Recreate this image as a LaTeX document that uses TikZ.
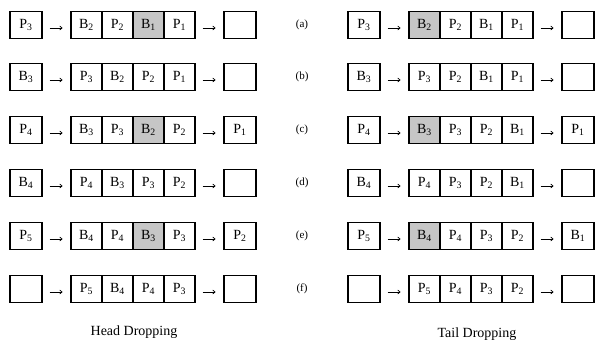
\documentclass[tikz,border=0pt]{standalone}
\usepackage{fontspec}
\setmainfont{Liberation Serif}
\usetikzlibrary{arrows.meta}
\newcommand\Sb[2]{#1\textsubscript{#2}}
\newcommand\qrow[6]{%
  \node[box] (#1in) at (#2+26,#3) {#4};
  \foreach \st/\tx [count=\i] in {#5} {
    \node[\st] (#1c\i) at (#2+71+31*\i-15.5,#3) {\tx};
  }
  \node[box] (#1out) at (#2+240,#3) {#6};
  \draw[arr] ([yshift=-3pt]#1in.east) -- ([yshift=-3pt]#1c1.west);
  \draw[arr] ([yshift=-3pt]#1c4.east) -- ([yshift=-3pt]#1out.west);
}
\begin{document}
\begin{tikzpicture}[x=1pt,y=1pt,
  box/.style={draw, line width=1.1pt, minimum width=32pt, minimum height=27pt, inner sep=0pt, font=\fontsize{14}{16}\selectfont},
  cell/.style={box, minimum width=31pt},
  gcell/.style={cell, fill=gray!45},
  arr/.style={-{To[length=3pt,width=4.5pt]}, line width=0.7pt, shorten <=7pt, shorten >=8pt},
  lab/.style={font=\fontsize{11}{13}\selectfont},
  ttl/.style={font=\fontsize{14}{16}\selectfont}]
\useasboundingbox (0,0) rectangle (595,-341);
% Head dropping (left)
\qrow{la}{0}{-25}{\Sb{P}{3}}{cell/\Sb{B}{2},cell/\Sb{P}{2},gcell/\Sb{B}{1},cell/\Sb{P}{1}}{}
\qrow{lb}{0}{-77}{\Sb{B}{3}}{cell/\Sb{P}{3},cell/\Sb{B}{2},cell/\Sb{P}{2},cell/\Sb{P}{1}}{}
\qrow{lc}{0}{-130}{\Sb{P}{4}}{cell/\Sb{B}{3},cell/\Sb{P}{3},gcell/\Sb{B}{2},cell/\Sb{P}{2}}{\Sb{P}{1}}
\qrow{ld}{0}{-183}{\Sb{B}{4}}{cell/\Sb{P}{4},cell/\Sb{B}{3},cell/\Sb{P}{3},cell/\Sb{P}{2}}{}
\qrow{le}{0}{-236}{\Sb{P}{5}}{cell/\Sb{B}{4},cell/\Sb{P}{4},gcell/\Sb{B}{3},cell/\Sb{P}{3}}{\Sb{P}{2}}
\qrow{lf}{0}{-289}{}{cell/\Sb{P}{5},cell/\Sb{B}{4},cell/\Sb{P}{4},cell/\Sb{P}{3}}{}
% Tail dropping (right)
\qrow{ra}{338}{-25}{\Sb{P}{3}}{gcell/\Sb{B}{2},cell/\Sb{P}{2},cell/\Sb{B}{1},cell/\Sb{P}{1}}{}
\qrow{rb}{338}{-77}{\Sb{B}{3}}{cell/\Sb{P}{3},cell/\Sb{P}{2},cell/\Sb{B}{1},cell/\Sb{P}{1}}{}
\qrow{rc}{338}{-130}{\Sb{P}{4}}{gcell/\Sb{B}{3},cell/\Sb{P}{3},cell/\Sb{P}{2},cell/\Sb{B}{1}}{\Sb{P}{1}}
\qrow{rd}{338}{-183}{\Sb{B}{4}}{cell/\Sb{P}{4},cell/\Sb{P}{3},cell/\Sb{P}{2},cell/\Sb{B}{1}}{}
\qrow{re}{338}{-236}{\Sb{P}{5}}{gcell/\Sb{B}{4},cell/\Sb{P}{4},cell/\Sb{P}{3},cell/\Sb{P}{2}}{\Sb{B}{1}}
\qrow{rf}{338}{-289}{}{cell/\Sb{P}{5},cell/\Sb{P}{4},cell/\Sb{P}{3},cell/\Sb{P}{2}}{}
% row labels
\node[lab] (ta) at (302,-25) {(a)};
\node[lab] (tb) at (302,-77) {(b)};
\node[lab] (tc) at (302,-130) {(c)};
\node[lab] (td) at (302,-183) {(d)};
\node[lab] (te) at (302,-236) {(e)};
\node[lab] (tf) at (302,-289) {(f)};
% titles
\node[ttl] (head) at (134,-332) {Head Dropping};
\node[ttl] (tail) at (477,-334) {Tail Dropping};
\end{tikzpicture}
\end{document}
